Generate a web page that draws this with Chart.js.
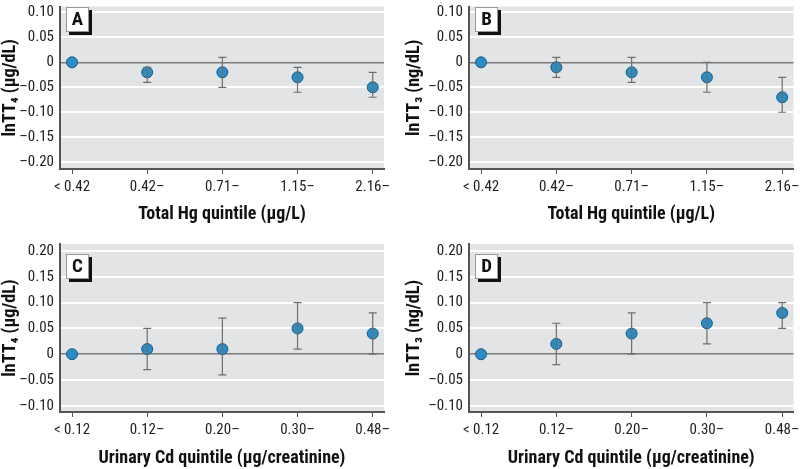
<!DOCTYPE html>
<html>
<head>
<meta charset="utf-8">
<script src="https://cdn.jsdelivr.net/npm/chart.js@4.4.1/dist/chart.umd.min.js"></script>
<style>
  body { margin: 0; background: #fff; }
  #wrap { position: relative; width: 800px; height: 469px; }
  .panel { position: absolute; }
</style>
</head>
<body>
<div id="wrap">
  <div class="panel" style="left:0;top:0;width:400px;height:235px"><canvas id="chartA"></canvas></div>
  <div class="panel" style="left:400px;top:0;width:400px;height:235px"><canvas id="chartB"></canvas></div>
  <div class="panel" style="left:0;top:235px;width:400px;height:234px"><canvas id="chartC"></canvas></div>
  <div class="panel" style="left:400px;top:235px;width:400px;height:234px"><canvas id="chartD"></canvas></div>
</div>
<script>
// quintile labels
const hgLabels = ["< 0.42", "0.42\u2013", "0.71\u2013", "1.15\u2013", "2.16\u2013"];
const cdLabels = ["< 0.12", "0.12\u2013", "0.20\u2013", "0.30\u2013", "0.48\u2013"];

// y ticks
const yTicksTop = [0.10, 0.05, 0, -0.05, -0.10, -0.15, -0.20];
const yTicksBottom = [0.20, 0.15, 0.10, 0.05, 0, -0.05, -0.10];

// A : lnTT4 vs Hg
const aMean = [0, -0.02, -0.02, -0.03, -0.05];
const aLow = [null, -0.04, -0.05, -0.06, -0.07];
const aHigh = [null, -0.01, 0.01, -0.01, -0.02];

// B : lnTT3 vs Hg
const bMean = [0, -0.01, -0.02, -0.03, -0.07];
const bLow = [null, -0.03, -0.04, -0.06, -0.10];
const bHigh = [null, 0.01, 0.01, 0, -0.03];

// C : lnTT4 vs Cd
const cMean = [0, 0.01, 0.01, 0.05, 0.04];
const cLow = [null, -0.03, -0.04, 0.01, 0];
const cHigh = [null, 0.05, 0.07, 0.10, 0.08];

// D : lnTT3 vs Cd
const dMean = [0, 0.02, 0.04, 0.06, 0.08];
const dLow = [null, -0.02, 0, 0.02, 0.05];
const dHigh = [null, 0.06, 0.08, 0.10, 0.10];

const FONT = "'Liberation Sans Narrow', 'Roboto Condensed', 'Liberation Sans', Arial, sans-serif";
const fmt = v => (v < 0 ? "\u2013" : "") + (v === 0 ? "0" : Math.abs(v).toFixed(2));

const panelPlugin = {
  id: "panelPlugin",
  beforeDraw(chart, args, opts) {
    const { ctx, chartArea: a } = chart;
    ctx.save();
    ctx.fillStyle = "#e3e4e5";
    ctx.fillRect(a.left, a.top, a.right - a.left, a.bottom - a.top);
    ctx.restore();
  },
  afterDatasetsDraw(chart, args, opts) {
    const { ctx } = chart;
    const xs = chart.scales.x, ys = chart.scales.y;
    // error bars
    ctx.save();
    ctx.strokeStyle = "#6e6e6e";
    ctx.lineWidth = 1.2;
    opts.low.forEach((lo, i) => {
      const hi = opts.high[i];
      if (lo === null || hi === null) return;
      const x = xs.getPixelForValue(i);
      const y1 = ys.getPixelForValue(lo), y2 = ys.getPixelForValue(hi);
      ctx.beginPath();
      ctx.moveTo(x, y1); ctx.lineTo(x, y2);
      ctx.moveTo(x - 4, y1); ctx.lineTo(x + 4, y1);
      ctx.moveTo(x - 4, y2); ctx.lineTo(x + 4, y2);
      ctx.stroke();
    });
    ctx.restore();
  },
  afterDraw(chart, args, opts) {
    const { ctx } = chart;
    const [bx, by] = opts.box;
    ctx.save();
    ctx.fillStyle = "#111";
    ctx.fillRect(bx + 3, by + 3, 23, 25);
    ctx.fillStyle = "#fff";
    ctx.strokeStyle = "#999";
    ctx.lineWidth = 1;
    ctx.fillRect(bx, by, 23, 25);
    ctx.strokeRect(bx + 0.5, by + 0.5, 22, 24);
    ctx.fillStyle = "#111";
    ctx.font = "bold 19px " + FONT;
    ctx.textAlign = "center";
    ctx.textBaseline = "middle";
    ctx.fillText(opts.letter, bx + 11.5, by + 13.5);
    ctx.restore();
  }
};

function makePanel(id, cfg) {
  const points = cfg.mean.map((v, i) => ({ x: i, y: v }));
  return new Chart(document.getElementById(id), {
    type: "scatter",
    data: {
      datasets: [{
        data: points,
        pointRadius: 5.5,
        pointBackgroundColor: "#2a8dc5",
        pointBorderColor: "#1d5a80",
        pointBorderWidth: 1,
        showLine: false
      }]
    },
    options: {
      responsive: true,
      maintainAspectRatio: false,
      animation: false,
      events: [],
      layout: { padding: { left: 0, right: cfg.padRight, top: cfg.padTop, bottom: 0 } },
      plugins: {
        legend: { display: false },
        tooltip: { enabled: false },
        panelPlugin: { low: cfg.low, high: cfg.high, letter: cfg.letter, box: cfg.box }
      },
      scales: {
        x: {
          type: "linear",
          min: -0.16,
          max: 4.15,
          afterBuildTicks: s => { s.ticks = cfg.labels.map((_, i) => ({ value: i })); },
          afterFit: s => { s.height = cfg.xHeight; s.paddingLeft = 0; s.paddingRight = 0; },
          ticks: {
            callback: v => cfg.labels[v],
            color: "#222",
            font: { family: FONT, size: 15 },
            padding: 4,
            maxRotation: 0,
            autoSkip: false
          },
          grid: { drawOnChartArea: false, drawTicks: true, tickLength: 5, color: "#555", lineWidth: 1 },
          border: { display: true, color: "#555", width: 2 },
          title: {
            display: true,
            text: cfg.xTitle,
            color: "#111",
            font: { family: FONT, size: 18, weight: "bold" },
            padding: { top: 0, bottom: cfg.xTitlePad }
          }
        },
        y: {
          min: cfg.yMin,
          max: cfg.yMax,
          afterBuildTicks: s => { s.ticks = cfg.yTicks.map(v => ({ value: v })); },
          afterFit: s => { s.width = cfg.yWidth; s.paddingTop = 0; s.paddingBottom = 0; },
          ticks: {
            callback: v => fmt(v),
            color: "#222",
            font: { family: FONT, size: 15 },
            padding: 6
          },
          grid: {
            drawTicks: false,
            color: c => (c.tick && c.tick.value === 0 ? "#7a7a7a" : "#ffffff"),
            lineWidth: c => (c.tick && c.tick.value === 0 ? 1.5 : 2)
          },
          border: { display: true, color: "#555", width: 2 },
          title: {
            display: true,
            text: cfg.yTitle,
            color: "#111",
            font: { family: FONT, size: 18, weight: "bold" },
            padding: { top: cfg.yTitlePad, bottom: 0 }
          }
        }
      }
    },
    plugins: [panelPlugin]
  });
}

makePanel("chartA", {
  mean: aMean, low: aLow, high: aHigh, labels: hgLabels, yTicks: yTicksTop,
  yMin: -0.2137, yMax: 0.1118, letter: "A", box: [66, 7],
  xTitle: "Total Hg quintile (\u03bcg/L)", yTitle: "lnTT\u2084 (\u03bcg/dL)",
  padRight: 16, padTop: 0, yWidth: 60, xHeight: 66, xTitlePad: 10, yTitlePad: 0
});
makePanel("chartB", {
  mean: bMean, low: bLow, high: bHigh, labels: hgLabels, yTicks: yTicksTop,
  yMin: -0.2137, yMax: 0.1118, letter: "B", box: [75, 7],
  xTitle: "Total Hg quintile (\u03bcg/L)", yTitle: "lnTT\u2083 (ng/dL)",
  padRight: 5, padTop: 0, yWidth: 69, xHeight: 66, xTitlePad: 10, yTitlePad: 4
});
makePanel("chartC", {
  mean: cMean, low: cLow, high: cHigh, labels: cdLabels, yTicks: yTicksBottom,
  yMin: -0.112, yMax: 0.2136, letter: "C", box: [66, 19],
  xTitle: "Urinary Cd quintile (\u03bcg/creatinine)", yTitle: "lnTT\u2084 (\u03bcg/dL)",
  padRight: 16, padTop: 9, yWidth: 60, xHeight: 57, xTitlePad: 0, yTitlePad: 0
});
makePanel("chartD", {
  mean: dMean, low: dLow, high: dHigh, labels: cdLabels, yTicks: yTicksBottom,
  yMin: -0.112, yMax: 0.2136, letter: "D", box: [75, 19],
  xTitle: "Urinary Cd quintile (\u03bcg/creatinine)", yTitle: "lnTT\u2083 (ng/dL)",
  padRight: 5, padTop: 9, yWidth: 69, xHeight: 57, xTitlePad: 0, yTitlePad: 4
});
</script>
</body>
</html>
